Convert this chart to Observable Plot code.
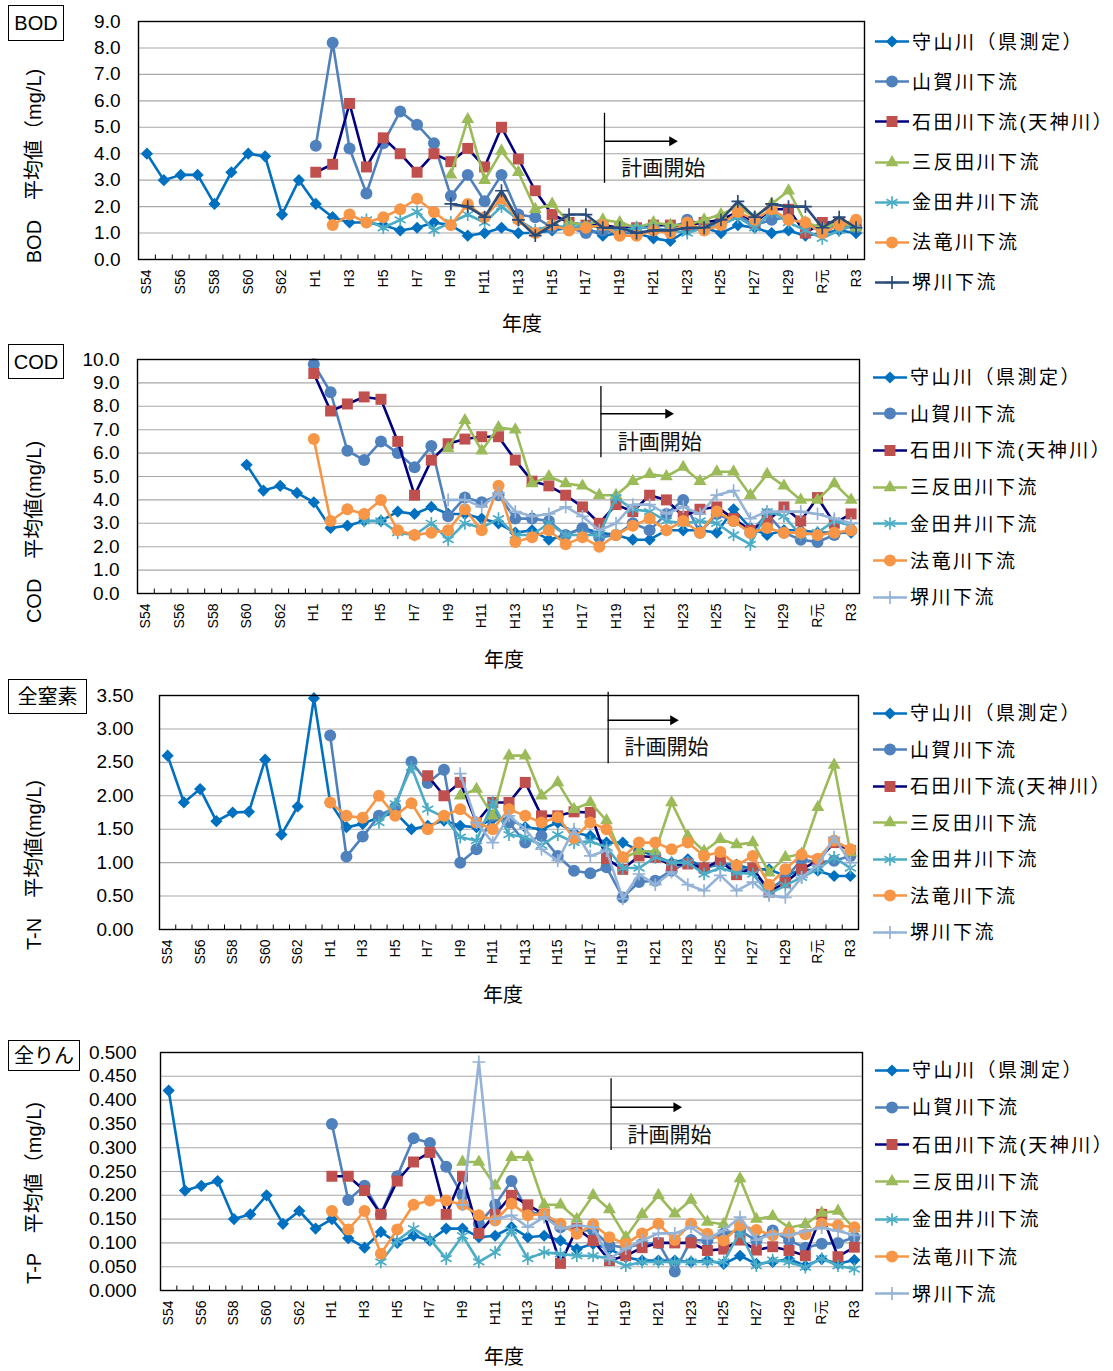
<!DOCTYPE html>
<html><head><meta charset="utf-8">
<script src="https://cdn.jsdelivr.net/npm/d3@7"></script>
<script src="https://cdn.jsdelivr.net/npm/@observablehq/plot@0.6"></script>
<style>
body{margin:0;background:#fff;}
#page{position:relative;width:1113px;height:1371px;overflow:hidden;background:#fff;font-family:"Liberation Sans",Arial,"Noto Sans CJK JP",sans-serif;color:#000;}
.box{position:absolute;border:1.5px solid #000;box-sizing:border-box;display:flex;align-items:center;justify-content:center;font-size:20px;line-height:1;}
.ytitle{position:absolute;transform:translate(-50%,-50%) rotate(-90deg);white-space:nowrap;font-size:20px;line-height:1;}
.xtitle{position:absolute;transform:translate(-50%,-50%);font-size:20px;white-space:nowrap;line-height:1;}
.legrow{position:absolute;display:flex;align-items:center;transform:translateY(-50%);font-size:19px;letter-spacing:2.5px;white-space:nowrap;line-height:1;}
.legrow svg{display:block;margin-right:3px;}
</style>
</head><body><div id="page"></div>
<script>
const _ = null;
const years = ["S54","S55","S56","S57","S58","S59","S60","S61","S62","S63",
  "H1","H2","H3","H4","H5","H6","H7","H8","H9","H10",
  "H11","H12","H13","H14","H15","H16","H17","H18","H19","H20",
  "H21","H22","H23","H24","H25","H26","H27","H28","H29","H30",
  "R元","R2","R3"];
const seriesNames = ["守山川（県測定）","山賀川下流","石田川下流(天神川）","三反田川下流","金田井川下流","法竜川下流","堺川下流"];

// ---- BOD (mg/L) ----
const bodMoriyama = [4.0,3.0,3.2,3.2,2.1,3.3,4.0,3.9,1.7,3.0, 2.1,1.6,1.4,1.4,1.3,1.1,1.2,1.4,1.3,0.9, 1.0,1.2,1.0,1.0,1.1,1.2,1.2,0.9,1.0,1.0, 0.8,0.7,1.1,1.2,1.0,1.3,1.2,1.0,1.1,0.9, 1.0,1.1,1.0];
const bodYamaga   = [_,_,_,_,_,_,_,_,_,_, 4.3,8.2,4.2,2.5,4.4,5.6,5.1,4.4,2.4,3.2, 2.2,3.2,1.7,1.6,1.2,1.2,1.0,1.1,1.0,1.0, 1.1,1.1,1.5,1.3,1.4,1.7,1.3,1.5,1.6,1.3, 1.1,1.3,1.2];
const bodIshida   = [_,_,_,_,_,_,_,_,_,_, 3.3,3.6,5.9,3.5,4.6,4.0,3.3,4.0,3.7,4.2, 3.5,5.0,3.8,2.6,1.7,1.4,1.3,1.3,1.2,1.2, 1.3,1.3,1.3,1.4,1.5,1.8,1.4,1.9,1.9,1.0, 1.4,1.4,1.3];
const bodMitanda  = [_,_,_,_,_,_,_,_,_,_, _,_,_,_,_,_,_,_,3.2,5.3, 3.0,4.1,3.3,1.9,2.1,1.4,1.3,1.5,1.4,1.2, 1.4,1.3,1.3,1.5,1.7,2.0,1.6,2.1,2.6,1.4, 1.2,1.4,1.2];
const bodKanadai  = [_,_,_,_,_,_,_,_,_,_, _,_,_,1.5,1.2,1.5,1.8,1.1,1.4,1.7, 1.4,2.0,1.5,1.1,1.3,1.2,1.3,1.2,1.1,1.2, 1.2,1.1,1.0,1.2,1.3,1.6,1.2,1.8,1.4,1.1, 0.8,1.1,1.3];
const bodHoryu    = [_,_,_,_,_,_,_,_,_,_, _,1.3,1.7,1.4,1.6,1.9,2.3,1.8,1.3,2.1, 1.6,2.3,1.5,1.0,1.3,1.1,1.2,1.3,0.9,0.9, 1.1,1.0,1.4,1.1,1.3,1.8,1.5,1.9,1.5,1.4, 1.0,1.3,1.5];
const bodSakai    = [_,_,_,_,_,_,_,_,_,_, _,_,_,_,_,_,_,_,2.1,2.0, 1.6,2.6,1.5,0.9,1.3,1.7,1.7,1.2,1.2,1.0, 1.1,1.1,1.2,1.2,1.5,2.2,1.6,2.1,2.0,2.0, 1.2,1.6,1.2];

// ---- COD (mg/L) ----
const codMoriyama = [_,_,_,_,_,_,5.5,4.4,4.6,4.3, 3.9,2.8,2.9,3.1,3.1,3.5,3.4,3.7,3.4,3.4, 3.2,3.0,2.6,2.7,2.3,2.5,2.8,2.6,2.5,2.3, 2.3,2.7,2.7,2.7,2.6,3.6,2.8,2.5,2.7,2.7, 2.6,2.6,2.6];
const codYamaga   = [_,_,_,_,_,_,_,_,_,_, 9.8,8.6,6.1,5.7,6.5,6.0,5.4,6.3,3.3,4.1, 3.9,4.2,3.2,3.2,3.1,2.5,2.8,2.4,2.5,3.0, 2.7,3.4,4.0,2.6,3.4,3.1,2.6,3.4,2.6,2.3, 2.2,2.5,2.7];
const codIshida   = [_,_,_,_,_,_,_,_,_,_, 9.4,7.8,8.1,8.4,8.3,6.5,4.2,5.7,6.4,6.6, 6.7,6.7,5.7,4.8,4.6,4.2,3.7,3.0,3.8,3.5, 4.2,4.0,3.3,3.6,3.7,3.2,2.7,3.1,3.7,3.1, 4.1,3.0,3.4];
const codMitanda  = [_,_,_,_,_,_,_,_,_,_, _,_,_,_,_,_,_,_,6.2,7.4, 6.1,7.1,7.0,4.7,5.0,4.7,4.6,4.2,4.2,4.8, 5.1,5.0,5.4,4.8,5.2,5.2,4.2,5.1,4.6,4.0, 4.0,4.7,4.0];
const codKanadai  = [_,_,_,_,_,_,_,_,_,_, _,_,_,3.1,3.1,2.6,2.5,3.0,2.3,3.0, 2.8,3.2,2.5,2.5,3.0,2.5,2.5,2.5,4.1,3.6, 3.5,3.1,3.0,3.1,3.0,2.5,2.1,3.5,3.3,2.5, 2.6,3.1,2.9];
const codHoryu    = [_,_,_,_,_,_,_,_,_,_, 6.6,3.1,3.6,3.4,4.0,2.7,2.5,2.6,2.7,3.6, 2.7,4.6,2.2,2.4,2.7,2.1,2.4,2.0,2.5,2.9, 3.2,2.7,3.1,2.6,3.5,3.1,2.6,2.8,2.6,2.6, 2.5,2.6,2.7];
const codSakai    = [_,_,_,_,_,_,_,_,_,_, _,_,_,_,_,_,_,_,4.0,4.0, 3.7,4.3,3.5,3.3,3.4,3.7,3.3,2.7,3.0,3.8, 3.8,3.4,3.7,3.4,4.2,4.4,3.2,3.5,3.5,3.5, 3.4,3.2,3.0];

// ---- T-N (mg/L) ----
const tnMoriyama = [2.6,1.9,2.1,1.62,1.75,1.76,2.54,1.42,1.84,3.46, 1.9,1.53,1.58,1.68,1.75,1.5,1.55,1.63,1.55,1.53, 1.65,1.65,1.53,1.5,1.6,1.45,1.4,1.3,1.3,1.18, 1.1,1.0,1.05,0.93,0.97,0.97,0.9,0.9,0.8,0.9, 0.88,0.8,0.8];
const tnYamaga   = [_,_,_,_,_,_,_,_,_,_, 2.9,1.09,1.39,1.7,1.83,2.51,2.19,2.39,1.0,1.2, 1.7,1.6,1.3,1.4,1.1,0.88,0.84,0.93,0.48,0.71, 0.73,0.88,1.0,0.9,1.0,0.9,0.9,0.6,0.76,1.05, 1.0,1.03,1.1];
const tnIshida   = [_,_,_,_,_,_,_,_,_,_, _,_,_,_,_,_,2.3,2.0,2.2,1.6, 1.9,1.9,2.2,1.7,1.7,1.76,1.75,1.06,0.9,1.1, 1.08,0.96,0.98,0.92,1.03,0.82,0.92,0.56,0.7,0.9, 1.03,1.3,1.18];
const tnMitanda  = [_,_,_,_,_,_,_,_,_,_, _,_,_,_,_,_,_,_,2.0,2.1, 1.7,2.6,2.6,2.0,2.2,1.8,1.9,1.63,1.07,1.17, 1.17,1.9,1.4,1.17,1.35,1.27,1.3,0.85,1.08,1.13, 1.83,2.46,1.15];
const tnKanadai  = [_,_,_,_,_,_,_,_,_,_, _,_,_,1.6,1.88,2.43,1.8,1.68,1.38,1.33, 1.9,1.42,1.38,1.26,1.42,1.3,1.32,1.23,0.92,0.92, 1.08,1.0,1.0,0.83,0.92,0.85,0.83,0.53,0.66,0.78, 0.9,1.08,0.92];
const tnHoryu    = [_,_,_,_,_,_,_,_,_,_, 1.9,1.7,1.67,2.0,1.7,1.89,1.5,1.7,1.8,1.6, 1.5,1.8,1.7,1.6,1.68,1.37,1.6,1.5,1.08,1.3, 1.3,1.2,1.3,1.1,1.16,0.96,1.1,0.67,0.9,1.12, 1.06,1.33,1.2];
const tnSakai    = [_,_,_,_,_,_,_,_,_,_, _,_,_,_,_,_,_,_,2.33,1.6, 1.3,1.7,1.5,1.2,1.03,1.5,1.1,1.18,0.46,0.83, 0.67,0.86,0.67,0.58,0.81,0.58,0.71,0.51,0.48,0.78, 0.96,1.38,1.0];

// ---- T-P (mg/L) ----
const tpMoriyama = [0.42,0.21,0.22,0.23,0.15,0.16,0.2,0.14,0.167,0.13, 0.15,0.11,0.09,0.123,0.1,0.115,0.105,0.13,0.13,0.112, 0.115,0.133,0.112,0.115,0.105,0.087,0.098,0.087,0.07,0.063, 0.063,0.063,0.06,0.063,0.056,0.073,0.056,0.06,0.066,0.052, 0.066,0.056,0.064];
const tpYamaga   = [_,_,_,_,_,_,_,_,_,_, 0.35,0.19,0.22,0.16,0.24,0.32,0.31,0.26,0.2,0.14, 0.18,0.23,0.165,0.16,0.133,0.126,0.126,0.095,0.09,0.098, 0.1,0.04,0.106,0.105,0.12,0.126,0.105,0.126,0.105,0.09, 0.098,0.1,0.112];
const tpIshida   = [_,_,_,_,_,_,_,_,_,_, 0.24,0.24,0.21,0.16,0.23,0.27,0.29,0.16,0.24,0.12, 0.16,0.2,0.18,0.16,0.057,0.13,0.105,0.063,0.073,0.09, 0.1,0.1,0.1,0.084,0.087,0.106,0.085,0.092,0.084,0.073, 0.16,0.071,0.091];
const tpMitanda  = [_,_,_,_,_,_,_,_,_,_, _,_,_,_,_,_,_,_,0.27,0.27, 0.22,0.28,0.28,0.18,0.18,0.15,0.2,0.17,0.112,0.16, 0.2,0.161,0.19,0.144,0.139,0.235,0.15,0.156,0.132,0.139, 0.163,0.167,0.13];
const tpKanadai  = [_,_,_,_,_,_,_,_,_,_, _,_,_,0.06,0.105,0.13,0.108,0.067,0.115,0.06, 0.08,0.126,0.067,0.08,0.077,0.073,0.073,0.067,0.052,0.06, 0.06,0.06,0.06,0.06,0.06,0.123,0.052,0.064,0.06,0.049, 0.067,0.052,0.045];
const tpHoryu    = [_,_,_,_,_,_,_,_,_,_, 0.167,0.128,0.167,0.077,0.128,0.18,0.189,0.189,0.18,0.158, 0.147,0.182,0.158,0.161,0.14,0.119,0.139,0.112,0.098,0.12, 0.14,0.106,0.14,0.119,0.105,0.137,0.127,0.116,0.122,0.118, 0.14,0.137,0.133];
const tpSakai    = [_,_,_,_,_,_,_,_,_,_, _,_,_,_,_,_,_,_,0.18,0.48, 0.15,0.158,0.133,0.154,0.13,0.137,0.133,0.067,0.088,0.105, 0.12,0.12,0.133,0.109,0.126,0.154,0.106,0.119,0.116,0.125, 0.132,0.125,0.116];

// axis ticks
const bodTicks = [0,1,2,3,4,5,6,7,8,9];
const codTicks = [0,1,2,3,4,5,6,7,8,9,10];
const tnTicks  = [0,0.5,1,1.5,2,2.5,3,3.5];
const tpTicks  = [0,0.05,0.1,0.15,0.2,0.25,0.3,0.35,0.4,0.45,0.5];
const xLabelIdx = [0,2,4,6,8,10,12,14,16,18,20,22,24,26,28,30,32,34,36,38,40,42];
const planLabel = "計画開始";

// styles (not data)
const baseStyles = [
  {symbol:"diamond2", r:5.5, line:"#0070C0", mark:"#0070C0", filled:true},
  {symbol:"circle",   r:6,   line:"#4F81BD", mark:"#4F81BD", filled:true},
  {symbol:"square",   r:6.2, line:"#000080", mark:"#C0504D", filled:true},
  {symbol:"triangle", r:4.8, line:"#9BBB59", mark:"#9BBB59", filled:true},
  {symbol:"asterisk", r:6,   line:"#4BACC6", mark:"#4BACC6", filled:false},
  {symbol:"circle",   r:6,   line:"#F79646", mark:"#F79646", filled:true},
  {symbol:"plus",     r:4.2, line:"#95B3D7", mark:"#95B3D7", filled:false}
];

const panels = [
  {title:"BOD", box:{x:8,y:5,w:56,h:36}, left:138, right:864, top:21, bottom:259, yMax:9, ticks:bodTicks, digits:1, pad:18,
   ytitle:"BOD　平均値（mg/L)", yt:[34,166], xt:[522,324], legX:875, legY0:41.7, legDY:40.1,
   plan:{y1:5.53,y2:2.88,ay:4.47,ty:3.45}, sakai:"#2A4C7A",
   data:[bodMoriyama,bodYamaga,bodIshida,bodMitanda,bodKanadai,bodHoryu,bodSakai]},
  {title:"COD", box:{x:8,y:344,w:56,h:35}, left:137, right:859, top:359, bottom:593, yMax:10, ticks:codTicks, digits:1, pad:18,
   ytitle:"COD　平均値(mg/L)", yt:[34,532], xt:[504,660], legX:873, legY0:377, legDY:36.7,
   plan:{y1:8.85,y2:5.8,ay:7.68,ty:6.47}, sakai:null,
   data:[codMoriyama,codYamaga,codIshida,codMitanda,codKanadai,codHoryu,codSakai]},
  {title:"全窒素", box:{x:8,y:679,w:79,h:35}, left:159, right:858, top:695, bottom:929, yMax:3.5, ticks:tnTicks, digits:2, pad:26,
   ytitle:"T-N　平均値(mg/L)", yt:[34,865], xt:[503,995], legX:873, legY0:713, legDY:36.5,
   plan:{y1:3.55,y2:2.48,ay:3.13,ty:2.73}, sakai:null,
   data:[tnMoriyama,tnYamaga,tnIshida,tnMitanda,tnKanadai,tnHoryu,tnSakai]},
  {title:"全りん", box:{x:8,y:1040,w:72,h:31}, left:160, right:862, top:1052, bottom:1290, yMax:0.5, ticks:tpTicks, digits:3, pad:24,
   ytitle:"T-P　平均値（mg/L)", yt:[34,1193], xt:[504,1357], legX:875, legY0:1070, legDY:37.3,
   plan:{y1:0.445,y2:0.294,ay:0.385,ty:0.326}, sakai:null,
   data:[tpMoriyama,tpYamaga,tpIshida,tpMitanda,tpKanadai,tpHoryu,tpSakai]}
];

const page = document.getElementById("page");
const FONT = "'Liberation Sans', Arial, 'Noto Sans CJK JP', sans-serif";
const W = 870, mT = 10, mB = 50;
const planX = 27.1, arrowTip = 31.45, textX = 28.1;
const bounds = d3.range(0.5, 42, 1);

function styleFor(p, k) {
  const s = Object.assign({}, baseStyles[k]);
  if (k === 6 && p.sakai) { s.line = p.sakai; s.mark = p.sakai; }
  return s;
}

panels.forEach(p => {
  const h = p.bottom - p.top;
  const marks = [
    Plot.gridY(p.ticks, {stroke:"#a8a8a8", strokeOpacity:1, strokeWidth:1.1}),
    Plot.ruleX(bounds, {x:d=>d, y1:0, y2:p.yMax*4.5/h, stroke:"#000", strokeWidth:1}),
    Plot.axisY(p.ticks, {tickSize:0, tickPadding:p.pad, tickFormat:d=>d.toFixed(p.digits), fontSize:19, label:null, fill:"#000"}),
    Plot.axisX(xLabelIdx, {tickSize:0, tickPadding:10, tickRotate:-90, tickFormat:i=>years[i], fontSize:14, label:null, fill:"#000"})
  ];
  p.data.forEach((arr, k) => {
    const st = styleFor(p, k);
    const d = arr.map((v,i)=>({i, v})).filter(o => o.v != null);
    marks.push(Plot.line(d, {x:"i", y:"v", stroke:st.line, strokeWidth:2.6, strokeLinejoin:"round"}));
    marks.push(Plot.dot(d, {x:"i", y:"v", symbol:st.symbol, r:st.r,
      fill: st.filled ? st.mark : "none", stroke: st.filled ? "none" : st.mark, strokeWidth: st.filled ? 0 : 1.7}));
  });
  // plan annotation
  marks.push(Plot.ruleX([planX], {x:d=>d, y1:p.plan.y1, y2:p.plan.y2, stroke:"#000", strokeWidth:1.3}));
  marks.push(Plot.ruleY([p.plan.ay], {y:d=>d, x1:planX, x2:arrowTip - 0.3, stroke:"#000", strokeWidth:1.4}));
  marks.push(Plot.dot([p.plan.ay], {x:()=>arrowTip, y:d=>d, symbol:"triangle", r:3.7, rotate:90, dx:-5.8, fill:"#000", stroke:"none"}));
  marks.push(Plot.text([p.plan.ty], {x:()=>textX, y:d=>d, text:()=>planLabel, textAnchor:"start", lineAnchor:"middle", fontSize:21, fill:"#111", fontFamily:"'Noto Sans CJK JP', sans-serif"}));
  marks.push(Plot.frame({stroke:"#000", strokeWidth:1.4}));

  const svg = Plot.plot({
    width: W, height: mT + h + mB,
    marginLeft: p.left, marginRight: W - p.right, marginTop: mT, marginBottom: mB,
    x: {type:"linear", domain:[-0.5, 42.5]},
    y: {domain:[0, p.yMax]},
    style: {fontFamily: FONT, background:"transparent", overflow:"visible"},
    marks
  });
  svg.style.position = "absolute";
  svg.style.left = "0px";
  svg.style.top = (p.top - mT) + "px";
  page.appendChild(svg);

  // boxed title
  const b = document.createElement("div");
  b.className = "box";
  b.textContent = p.title;
  Object.assign(b.style, {left:p.box.x+"px", top:p.box.y+"px", width:p.box.w+"px", height:p.box.h+"px"});
  page.appendChild(b);

  // y title
  const yt = document.createElement("div");
  yt.className = "ytitle";
  yt.textContent = p.ytitle;
  Object.assign(yt.style, {left:p.yt[0]+"px", top:p.yt[1]+"px"});
  page.appendChild(yt);

  // x title
  const xt = document.createElement("div");
  xt.className = "xtitle";
  xt.textContent = "年度";
  Object.assign(xt.style, {left:p.xt[0]+"px", top:p.xt[1]+"px"});
  page.appendChild(xt);

  // legend
  seriesNames.forEach((name, k) => {
    const st = styleFor(p, k);
    const row = document.createElement("div");
    row.className = "legrow";
    Object.assign(row.style, {left:p.legX+"px", top:(p.legY0 + k*p.legDY)+"px"});
    const ns = "http://www.w3.org/2000/svg";
    const s = document.createElementNS(ns, "svg");
    s.setAttribute("width", 34); s.setAttribute("height", 16);
    const ln = document.createElementNS(ns, "line");
    ln.setAttribute("x1", 0); ln.setAttribute("x2", 34); ln.setAttribute("y1", 8); ln.setAttribute("y2", 8);
    ln.setAttribute("stroke", st.line); ln.setAttribute("stroke-width", 2.6);
    s.appendChild(ln);
    const symMap = {diamond2:d3.symbolDiamond2, circle:d3.symbolCircle, square:d3.symbolSquare, triangle:d3.symbolTriangle, asterisk:d3.symbolAsterisk, plus:d3.symbolPlus};
    const path = document.createElementNS(ns, "path");
    path.setAttribute("d", d3.symbol(symMap[st.symbol], Math.PI*st.r*st.r)());
    path.setAttribute("transform", "translate(17,8)");
    if (st.filled) { path.setAttribute("fill", st.mark); }
    else { path.setAttribute("fill", "none"); path.setAttribute("stroke", st.mark); path.setAttribute("stroke-width", 1.7); }
    s.appendChild(path);
    row.appendChild(s);
    const t = document.createElement("span");
    t.textContent = name;
    row.appendChild(t);
    page.appendChild(row);
  });
});
</script>
</body></html>
